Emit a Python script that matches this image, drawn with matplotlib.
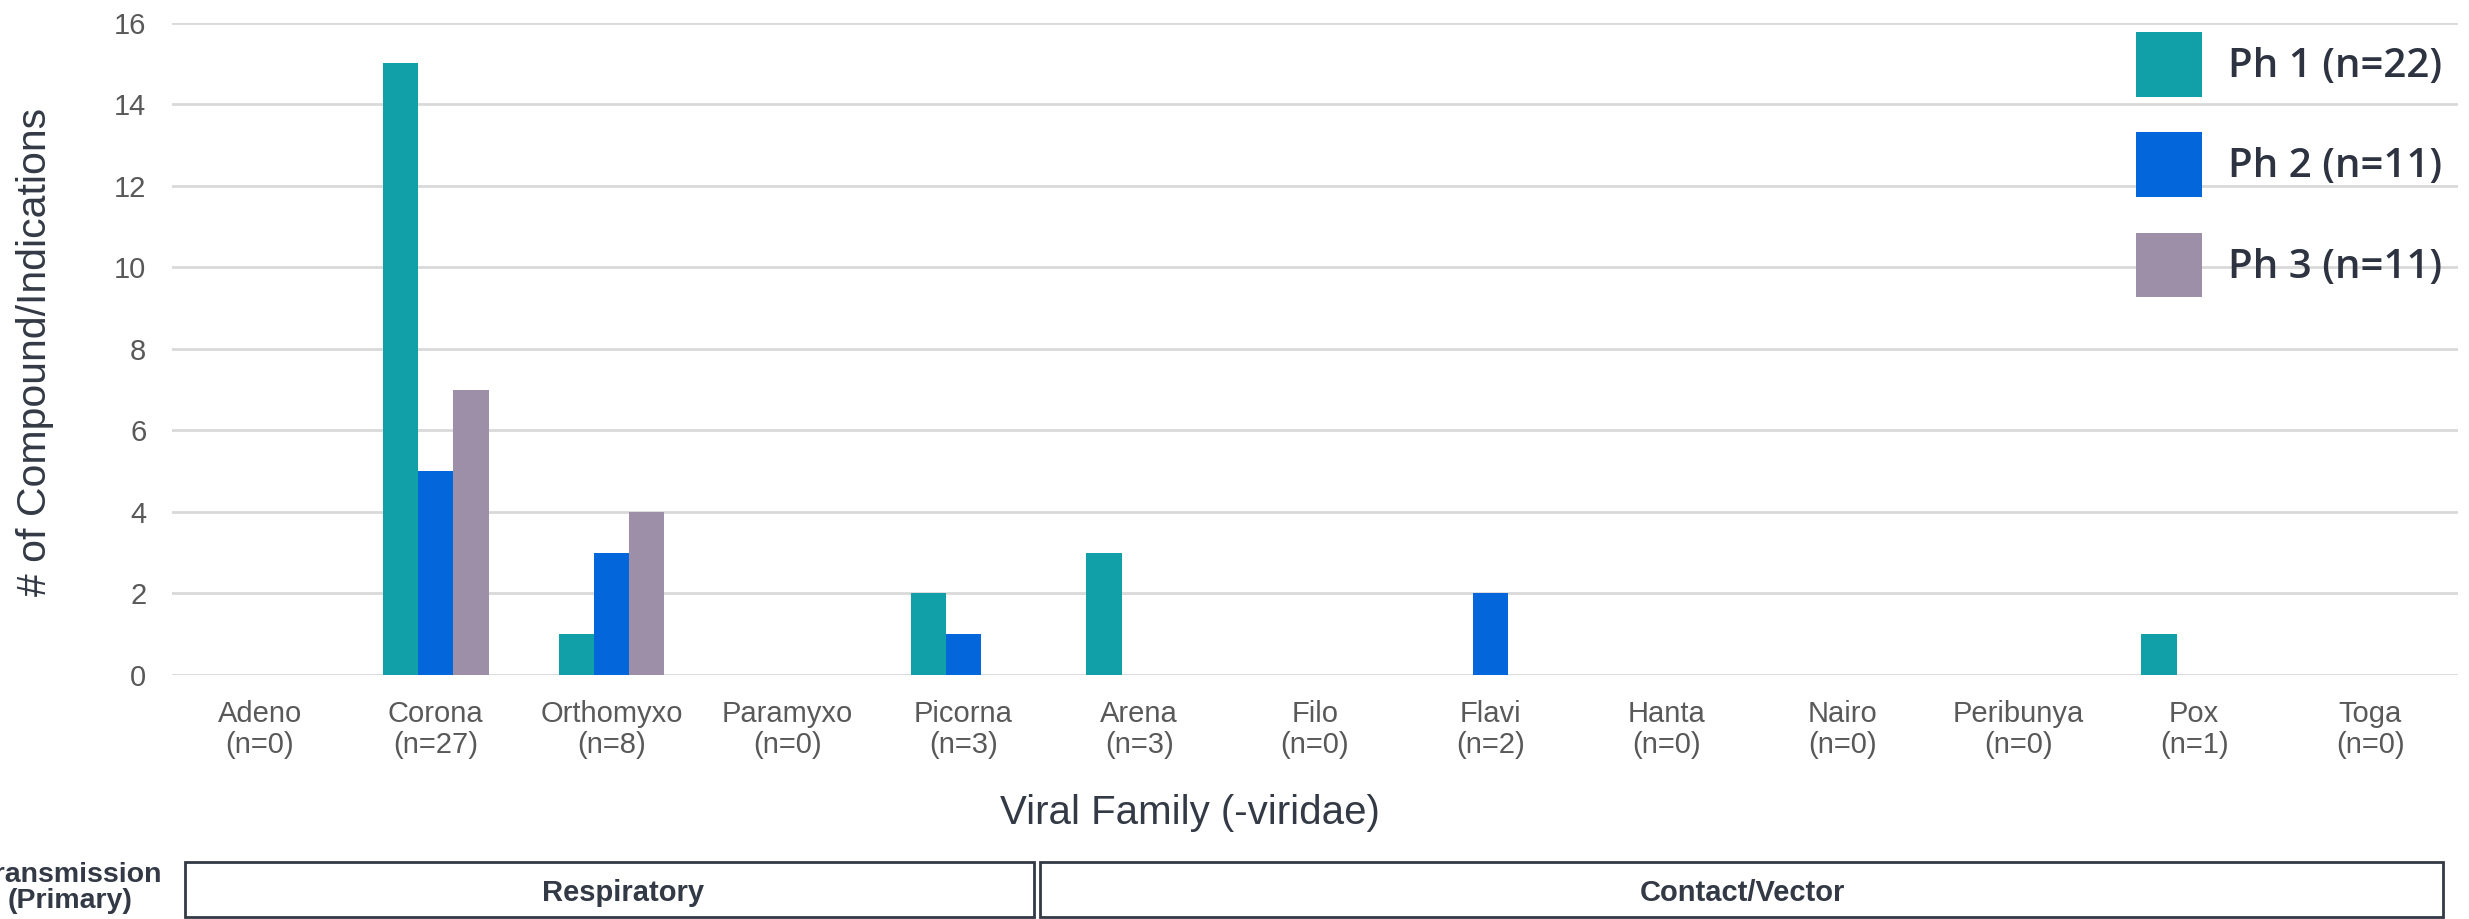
import numpy as np
import matplotlib
matplotlib.use("Agg")
import matplotlib.pyplot as plt
from matplotlib.patches import Rectangle

families = ["Adeno", "Corona", "Orthomyxo", "Paramyxo", "Picorna", "Arena", "Filo",
            "Flavi", "Hanta", "Nairo", "Peribunya", "Pox", "Toga"]
family_n = [0, 27, 8, 0, 3, 3, 0, 2, 0, 0, 0, 1, 0]

ph1 = [0, 15, 1, 0, 2, 3, 0, 0, 0, 0, 0, 1, 0]
ph2 = [0, 5, 3, 0, 1, 0, 0, 2, 0, 0, 0, 0, 0]
ph3 = [0, 7, 4, 0, 0, 0, 0, 0, 0, 0, 0, 0, 0]
series_labels = ["Ph 1 (n=22)", "Ph 2 (n=11)", "Ph 3 (n=11)"]
series_colors = ["#12A0A8", "#0366DA", "#9E8FA8"]

transmission = ["Respiratory", "Contact/Vector"]

W, H = 2469, 919
plt.rcParams['font.family'] = ['Liberation Sans', 'DejaVu Sans']


def fx(x):
    return x / W


def fy(y):
    return 1 - y / H


fig = plt.figure(figsize=(W / 100, H / 100), dpi=100)
ax = fig.add_axes([fx(172), fy(675), fx(2458) - fx(172), fy(22.7) - fy(675)])

x = np.arange(len(families))
bw = 0.2
bars = []
for i, (vals, col) in enumerate(zip([ph1, ph2, ph3], series_colors)):
    b = ax.bar(x + (i - 1) * bw, vals, bw, color=col, linewidth=0, zorder=3)
    bars.append(b)

ax.set_xlim(-0.5, len(families) - 0.5)
ax.set_ylim(0, 16)
ax.set_yticks(range(0, 17, 2))
ax.set_xticks(x)
ax.set_xticklabels([f"{f}\n(n={n})" for f, n in zip(families, family_n)], linespacing=1.13)
ax.tick_params(axis='x', length=0, pad=18, labelsize=21, labelcolor="#595959")
ax.tick_params(axis='y', length=0, pad=18.5, labelsize=21, labelcolor="#595959")
ax.grid(axis='y', color="#D9D9D9", linewidth=2, zorder=0)
ax.set_axisbelow(True)
for s in ax.spines.values():
    s.set_visible(False)

fig.text(fx(35), fy(352), "# of Compound/Indications", rotation=90, ha='center', va='center',
         fontsize=29.5, color="#333A45")
fig.text(fx(1190), fy(824), "Viral Family (-viridae)", ha='center', va='baseline',
         fontsize=29, color="#333A45")

leg = ax.legend(bars, series_labels, loc='upper left', bbox_to_anchor=(fx(2136), fy(32)),
                bbox_transform=fig.transFigure, frameon=False, borderpad=0, borderaxespad=0,
                handlelength=1.64, handleheight=2.1, handletextpad=0.65, labelspacing=0.88,
                prop={'family': ['Open Sans', 'DejaVu Sans'], 'size': 29, 'weight': 'semibold'})
for t in leg.get_texts():
    t.set_color("#2D3340")

# transmission boxes
fig.text(fx(70), fy(882), "Transmission", ha='center', va='baseline', fontsize=20.5,
         fontweight='bold', color="#333A45")
fig.text(fx(70), fy(908), "(Primary)", ha='center', va='baseline', fontsize=20.5,
         fontweight='bold', color="#333A45")
boxes = [(185, 1034, 623), (1040, 2443, 1742)]
for (x0, x1, xc), lab in zip(boxes, transmission):
    fig.patches.append(Rectangle((fx(x0), fy(917)), fx(x1) - fx(x0), fy(862) - fy(917),
                                 transform=fig.transFigure, fill=False, edgecolor="#333A45",
                                 linewidth=2))
    fig.text(fx(xc), fy(901), lab, ha='center', va='baseline', fontsize=21,
             fontweight='bold', color="#333A45")

fig.savefig("out.png", dpi=100)
